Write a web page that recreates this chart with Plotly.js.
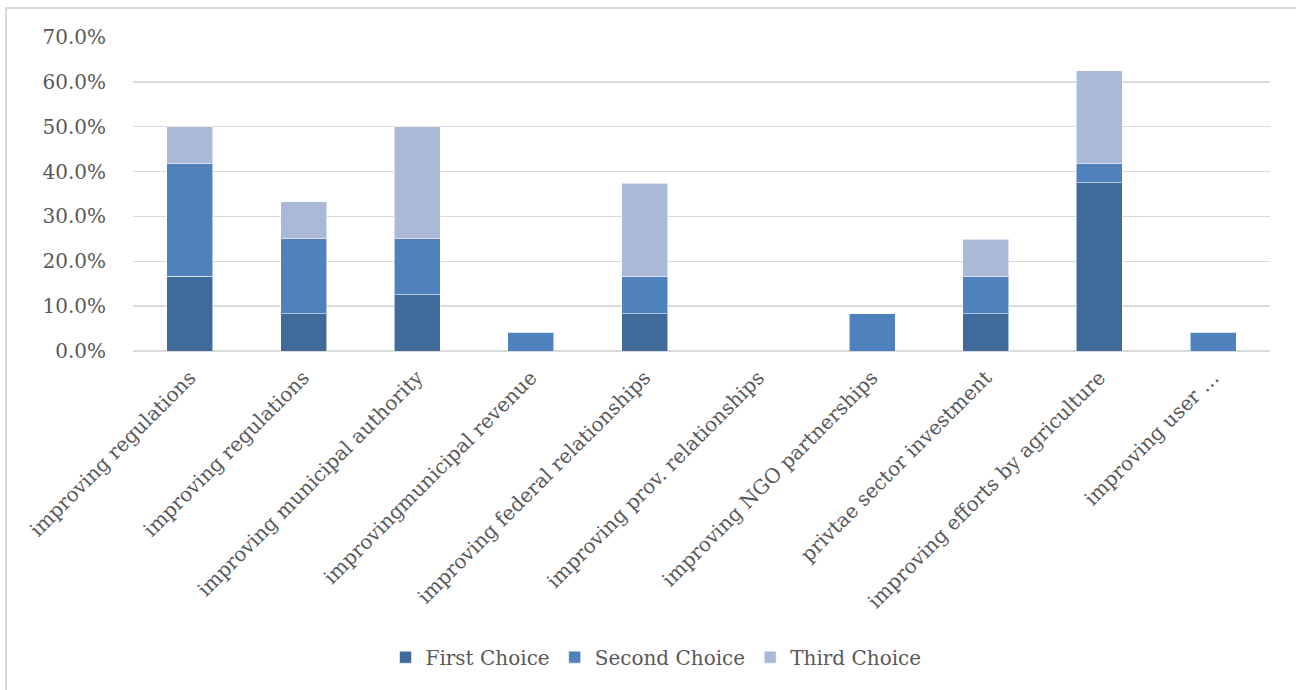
<!DOCTYPE html>
<html>
<head>
<meta charset="utf-8">
<script src="https://cdn.plot.ly/plotly-3.0.1.min.js"></script>
<style>
  html, body { margin: 0; padding: 0; background: #fff; }
  #frame { position: absolute; left: 5px; top: 7px; width: 1400px; height: 800px;
           border-left: 2px solid #d9d9d9; border-top: 2px solid #d9d9d9; }
  #chart { position: absolute; left: 0; top: 0; width: 1296px; height: 690px; }
</style>
</head>
<body>
<div id="frame"></div>
<div id="chart"></div>
<script>
const categories = [
  "improving regulations",
  "improving regulations",
  "improving municipal authority",
  "improvingmunicipal revenue",
  "improving federal relationships",
  "improving prov. relationships",
  "improving NGO partnerships",
  "privtae sector investment",
  "improving efforts by agriculture",
  "improving user …"
];
const firstChoice  = [0.167, 0.083, 0.125, 0, 0.083, 0, 0, 0.083, 0.375, 0];
const secondChoice = [0.250, 0.167, 0.125, 0.042, 0.083, 0, 0.083, 0.083, 0.042, 0.042];
const thirdChoice  = [0.083, 0.083, 0.250, 0, 0.208, 0, 0, 0.083, 0.208, 0];
const seriesNames = ["First Choice", "Second Choice", "Third Choice"];
const yTicks = [0, 0.1, 0.2, 0.3, 0.4, 0.5, 0.6, 0.7];

const xIdx = categories.map((_, i) => i);
const colors = ["#3f6a9a", "#4f81bd", "#aab9d7"];
const series = [firstChoice, secondChoice, thirdChoice];

const traces = series.map((vals, k) => ({
  type: "bar",
  name: seriesNames[k],
  x: xIdx,
  y: vals,
  width: 0.405,
  marker: { color: colors[k], line: { color: "rgba(255,255,255,0.55)", width: 1 } },
  hoverinfo: "skip"
}));

const font = { family: "DejaVu Serif", size: 20, color: "#595959" };

const layout = {
  width: 1296, height: 690,
  paper_bgcolor: "rgba(0,0,0,0)", plot_bgcolor: "rgba(0,0,0,0)",
  barmode: "stack",
  margin: { l: 133, r: 26, t: 37, b: 339 },
  font: font,
  showlegend: true,
  legend: {
    orientation: "h", x: 0.46, xanchor: "center", y: -0.975, yanchor: "middle",
    font: font, bgcolor: "rgba(0,0,0,0)", traceorder: "normal"
  },
  xaxis: {
    range: [-0.5, 9.5],
    tickmode: "array", tickvals: xIdx, ticktext: categories,
    tickangle: -45, tickfont: font,
    showgrid: false, zeroline: false, showline: false,
    ticks: "outside", ticklen: 6, tickcolor: "rgba(0,0,0,0)"
  },
  yaxis: {
    range: [0, 0.7],
    tickmode: "array", tickvals: yTicks,
    tickformat: ".1%", tickfont: font,
    showgrid: true, gridcolor: "#d9d9d9", gridwidth: 1.3,
    zeroline: true, zerolinecolor: "#d9d9d9", zerolinewidth: 1.3,
    showline: false,
    ticks: "outside", ticklen: 22, tickcolor: "rgba(0,0,0,0)"
  }
};

Plotly.newPlot("chart", traces, layout, { displayModeBar: false, staticPlot: true });
</script>
</body>
</html>
